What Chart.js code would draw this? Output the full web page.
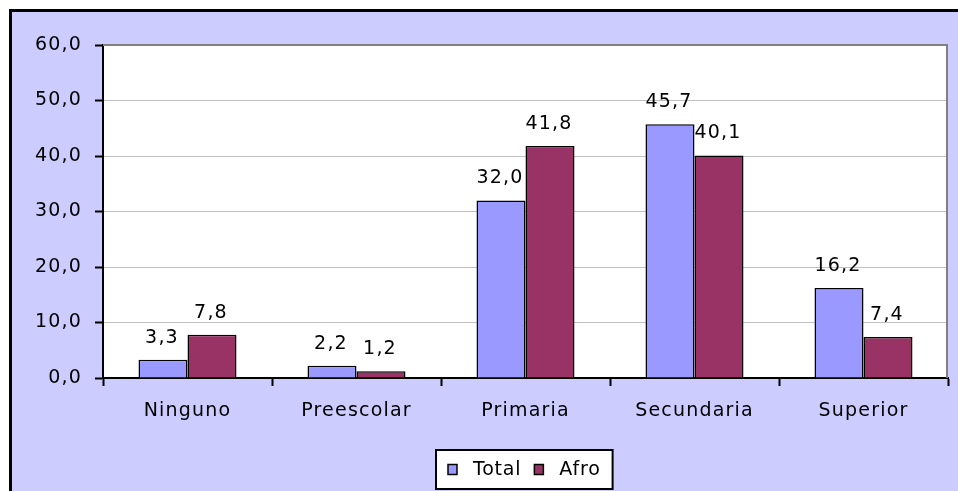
<!DOCTYPE html>
<html>
<head>
<meta charset="utf-8">
<script src="https://cdn.jsdelivr.net/npm/chart.js@4"></script>
<style>
  body { margin: 0; background: #fff; }
  #chart { display: block; }
</style>
</head>
<body>
<canvas id="chart" width="958" height="491"></canvas>
<script>
'use strict'

let categories = ['Ninguno', 'Preescolar', 'Primaria', 'Secundaria', 'Superior'];
let totalValues = [3.3, 2.2, 32.0, 45.7, 16.2];
let afroValues = [7.8, 1.2, 41.8, 40.1, 7.4];
let seriesNames = ['Total', 'Afro'];
let yTicks = [0, 10, 20, 30, 40, 50, 60];

let fontFamily = '"DejaVu Sans", sans-serif';
let spacing = '1.2px';

function fmt(v) {
    return v.toFixed(1).replace('.', ',');
}

// frame, background, data labels and the boxed legend
let decor = {
    id: 'decor',
    beforeUpdate(chart) {
        chart.ctx.letterSpacing = spacing;
    },
    beforeDraw(chart) {
        let ctx = chart.ctx;
        let a = chart.chartArea;
        ctx.letterSpacing = spacing;
        ctx.save();
        ctx.fillStyle = '#ffffff';
        ctx.fillRect(0, 0, chart.width, chart.height);
        ctx.fillStyle = '#ccccff';
        ctx.fillRect(10, 10, chart.width - 10, chart.height - 10);
        ctx.strokeStyle = '#000000';
        ctx.lineWidth = 3;
        ctx.beginPath();
        ctx.moveTo(10.5, chart.height);
        ctx.lineTo(10.5, 10.5);
        ctx.lineTo(chart.width, 10.5);
        ctx.stroke();
        ctx.fillStyle = '#ffffff';
        ctx.fillRect(a.left, a.top, a.right - a.left, a.bottom - a.top);
        ctx.restore();
    },
    afterDatasetsDraw(chart) {
        let ctx = chart.ctx;
        ctx.save();
        ctx.letterSpacing = spacing;
        ctx.font = '19px ' + fontFamily;
        ctx.fillStyle = '#000000';
        ctx.textAlign = 'center';
        ctx.textBaseline = 'middle';
        chart.data.datasets.forEach(function (ds, i) {
            chart.getDatasetMeta(i).data.forEach(function (bar, j) {
                ctx.fillText(fmt(ds.data[j]), bar.x - 1, bar.y - 22);
            });
        });
        ctx.restore();
    },
    afterDraw(chart) {
        let ctx = chart.ctx;
        let a = chart.chartArea;
        ctx.save();
        // grey top/right plot border
        ctx.strokeStyle = '#808080';
        ctx.lineWidth = 2;
        ctx.beginPath();
        ctx.moveTo(a.left, a.top);
        ctx.lineTo(a.right - 1, a.top);
        ctx.lineTo(a.right - 1, a.bottom);
        ctx.stroke();

        // legend
        ctx.letterSpacing = '0.8px';
        ctx.font = '19px ' + fontFamily;
        let marker = 9;
        let gapText = 16;
        let gapItem = 13;
        let pad = 12;
        let widths = chart.data.datasets.map(function (ds) {
            return ctx.measureText(ds.label).width;
        });
        let total = pad * 2;
        widths.forEach(function (w, i) {
            total += marker + gapText + w;
            if (i > 0) total += gapItem;
        });
        let cx = (a.left + a.right) / 2;
        let left = Math.round(cx - total / 2) - 1;
        let top = 450;
        let h = 39;
        ctx.fillStyle = '#ffffff';
        ctx.fillRect(left, top, total, h);
        ctx.strokeStyle = '#000000';
        ctx.lineWidth = 2;
        ctx.strokeRect(left, top, total, h);
        let x = left + pad;
        let cy = top + h / 2;
        ctx.textAlign = 'left';
        ctx.textBaseline = 'middle';
        chart.data.datasets.forEach(function (ds, i) {
            if (i > 0) x += gapItem;
            ctx.fillStyle = ds.backgroundColor;
            ctx.fillRect(x, cy - 5, marker, 10);
            ctx.lineWidth = 1.5;
            ctx.strokeStyle = '#000000';
            ctx.strokeRect(x, cy - 5, marker, 10);
            x += marker + gapText;
            ctx.fillStyle = '#000000';
            ctx.fillText(ds.label, x, cy + 1);
            x += widths[i];
        });
        ctx.restore();
    }
};

let data = {
    labels: categories,
    datasets: [{
        label: seriesNames[0],
        data: totalValues,
        backgroundColor: '#9999ff',
        borderColor: '#000000',
        borderWidth: 1.5
    },
    {
        label: seriesNames[1],
        data: afroValues,
        backgroundColor: '#993366',
        borderColor: '#000000',
        borderWidth: 1.5
    }]
};

let config = {
    type: 'bar',
    data: data,
    options: {
        responsive: false,
        animation: false,
        layout: { padding: { top: 45, right: 10, bottom: 0, left: 0 } },
        datasets: {
            bar: { categoryPercentage: 0.58, barPercentage: 1 }
        },
        plugins: {
            legend: { display: false },
            tooltip: { enabled: false }
        },
        scales: {
            x: {
                afterFit(scale) { scale.height = 113; },
                grid: {
                    display: true,
                    drawOnChartArea: false,
                    tickLength: 8,
                    tickColor: '#000000',
                    tickWidth: 2,
                    offset: true
                },
                border: { color: '#000000', width: 2 },
                ticks: {
                    color: '#000000',
                    padding: 14,
                    font: { family: fontFamily, size: 19 }
                }
            },
            y: {
                min: yTicks[0],
                max: yTicks[yTicks.length - 1],
                afterFit(scale) { scale.width = 103; },
                afterBuildTicks(scale) {
                    scale.ticks = yTicks.map(function (v) { return { value: v }; });
                },
                grid: {
                    color: '#c0c0c0',
                    lineWidth: 1,
                    tickLength: 8,
                    tickColor: '#000000',
                    tickWidth: 2
                },
                border: { color: '#000000', width: 2 },
                ticks: {
                    color: '#000000',
                    padding: 13,
                    font: { family: fontFamily, size: 19 },
                    callback: function (v) { return fmt(v); }
                }
            }
        }
    },
    plugins: [decor]
};

let canvas = document.getElementById('chart');
const chart = new Chart(canvas, config);
</script>
</body>
</html>
